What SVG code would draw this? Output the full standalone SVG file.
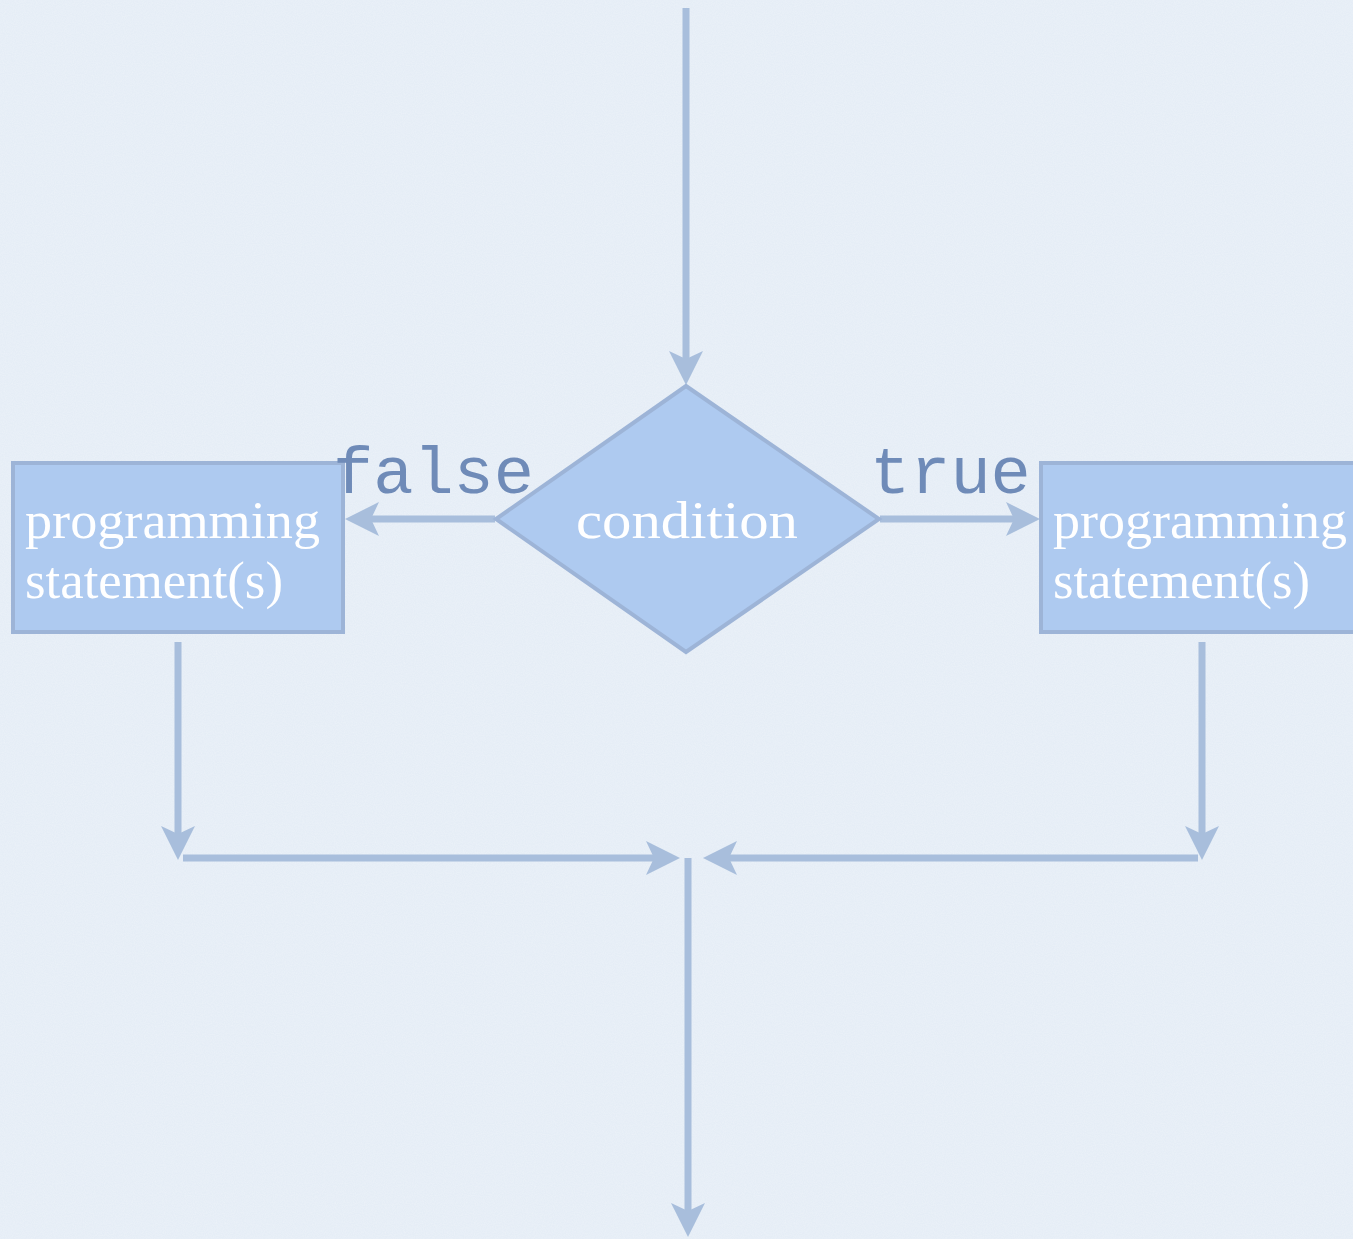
<svg xmlns="http://www.w3.org/2000/svg" width="1353" height="1239" viewBox="0 0 1353 1239">
  <style>
    .conn { stroke: #a8bedc; stroke-width: 7; fill: none; marker-end: url(#arrow); }
    .node { fill: #aecaf0; stroke: #9db4d7; stroke-width: 4; }
    .label { font-family: "Liberation Serif", "Times New Roman", serif; font-size: 52px; fill: #ffffff; }
    .code { font-family: "Liberation Mono", "Courier New", monospace; font-size: 67px; fill: #6f8bb8; }
  </style>
  <defs>
    <filter id="paper" x="0" y="0" width="100%" height="100%">
      <feTurbulence type="fractalNoise" baseFrequency="0.9" numOctaves="2" seed="3" result="n"/>
      <feColorMatrix in="n" type="matrix" values="0 0 0 0 1  0 0 0 0 1  0 0 0 0 1  0 0 0 0.35 -0.1" result="w"/>
      <feComposite in="w" in2="SourceGraphic" operator="in"/>
    </filter>
    <marker id="arrow" markerUnits="userSpaceOnUse" markerWidth="40" markerHeight="40" viewBox="-37 -20 40 40" refX="-18" refY="0" orient="auto">
      <path d="M0,0 L-34,-17 L-26,0 L-34,17 Z" fill="#a8bedc"/>
    </marker>
  </defs>
  <rect width="1353" height="1239" fill="#e5edf6"/>
  <rect width="1353" height="1239" fill="#e5edf6" filter="url(#paper)"/>

  <g id="connectors">
    <line class="conn" x1="686" y1="8" x2="686" y2="367"/>
    <line class="conn" x1="495" y1="519" x2="363" y2="519"/>
    <line class="conn" x1="880" y1="519" x2="1022" y2="519"/>
    <line class="conn" x1="178" y1="642" x2="178" y2="842"/>
    <line class="conn" x1="1202" y1="642" x2="1202" y2="842"/>
    <line class="conn" x1="183" y1="858" x2="662" y2="858"/>
    <line class="conn" x1="1198" y1="858" x2="721" y2="858"/>
    <line class="conn" x1="688" y1="858" x2="688" y2="1219"/>
  </g>

  <g id="condition">
    <polygon class="node" points="686,386 879,519 686,652 496,519"/>
    <text class="label" x="687" y="538" text-anchor="middle" textLength="222" lengthAdjust="spacingAndGlyphs">condition</text>
  </g>

  <g id="false-branch">
    <rect class="node" x="13" y="463" width="330" height="169"/>
    <text class="label" x="25" y="538" textLength="295" lengthAdjust="spacingAndGlyphs">programming</text>
    <text class="label" x="25" y="598" textLength="258" lengthAdjust="spacingAndGlyphs">statement(s)</text>
  </g>

  <g id="true-branch">
    <rect class="node" x="1041" y="463" width="330" height="169"/>
    <text class="label" x="1053" y="538" textLength="294" lengthAdjust="spacingAndGlyphs">programming</text>
    <text class="label" x="1053" y="598" textLength="257" lengthAdjust="spacingAndGlyphs">statement(s)</text>
  </g>

  <g id="labels">
    <text class="code" x="333" y="493">false</text>
    <text class="code" x="870" y="493">true</text>
  </g>
</svg>
